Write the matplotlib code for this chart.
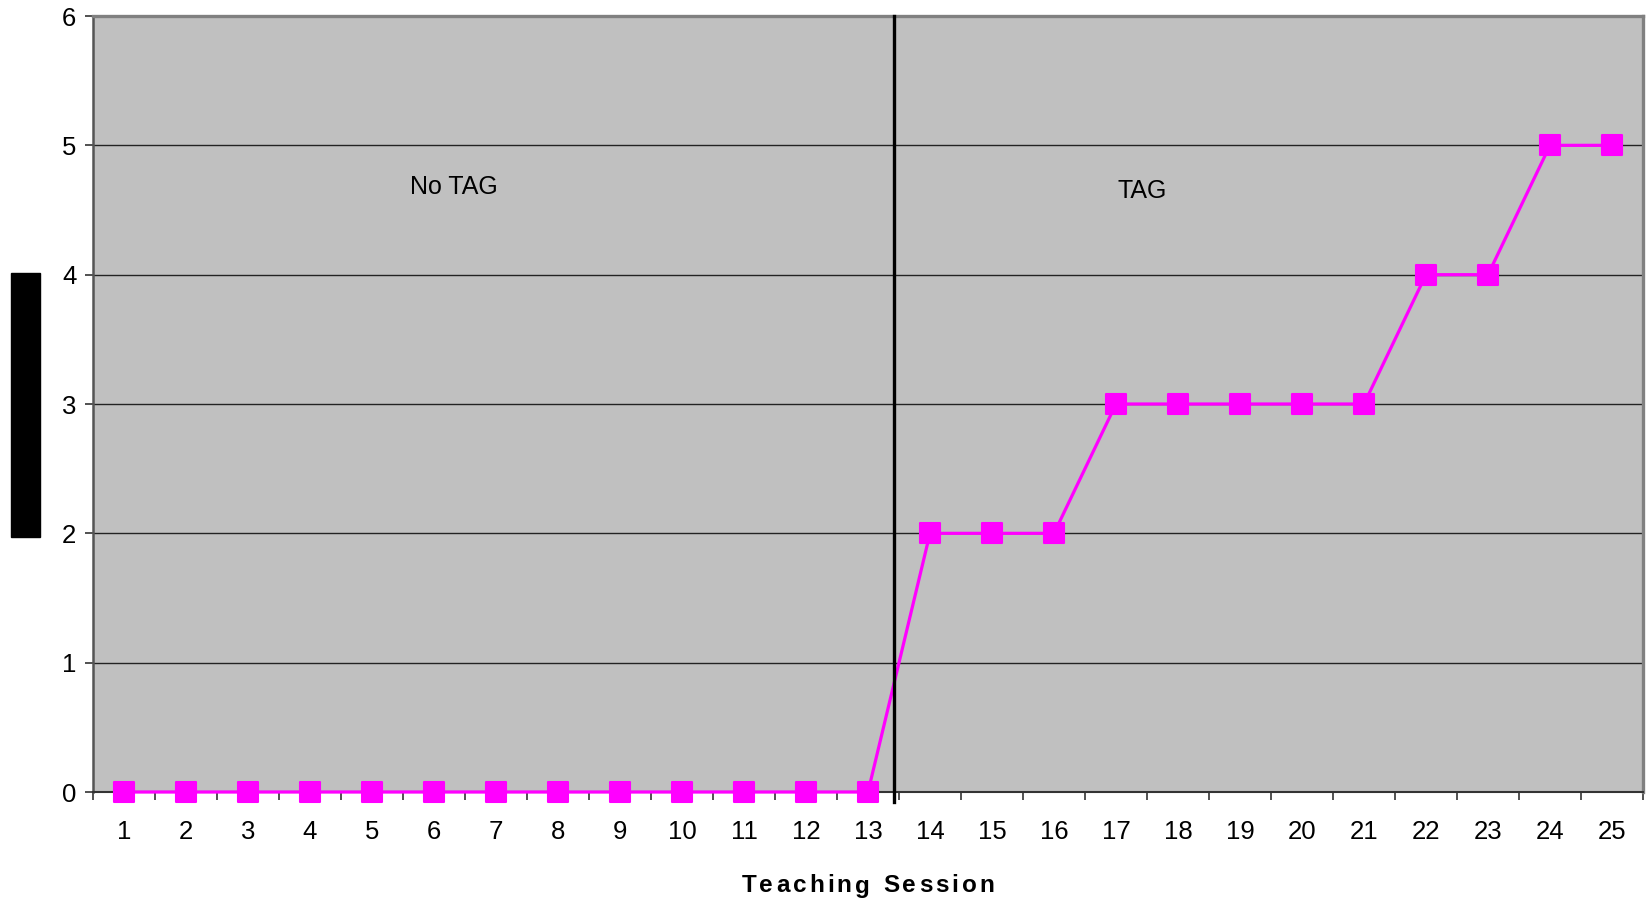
import numpy as np
import matplotlib
matplotlib.use("Agg")
import matplotlib.pyplot as plt
from matplotlib.patches import Rectangle
from matplotlib.markers import MarkerStyle

plt.rcParams['font.family'] = ['Liberation Sans', 'DejaVu Sans']

# sessions and scores
sessions = list(range(1, 26))
scores = [0, 0, 0, 0, 0, 0, 0, 0, 0, 0, 0, 0, 0,
          2, 2, 2, 3, 3, 3, 3, 3, 4, 4, 5, 5]
phase_change = 13.42   # boundary between the two phases
phase_labels = ["No TAG", "TAG"]

fig = plt.figure(figsize=(16.46, 9.01), dpi=100)
ax = fig.add_axes([93 / 1646, 1 - 792 / 901, 1550 / 1646, 776 / 901])
ax.set_facecolor("#c0c0c0")

# squares with slightly rounded corners
sq = MarkerStyle("s", joinstyle="round")
ax.plot(sessions, scores, color="#ff00ff", lw=2.3, marker=sq, ms=14, mew=1.5,
        mfc="#ff00ff", mec="#ff00ff", zorder=4, clip_on=False)

# phase line, poking a bit below the axis
ax.plot([phase_change, phase_change], [-0.075, 6], color="black", lw=2.4,
        clip_on=False, zorder=5)

ax.text(6.32, 4.68, phase_labels[0], fontsize=18, ha="center", va="center")
ax.text(17.42, 4.65, phase_labels[1], fontsize=18, ha="center", va="center")

ax.set_xlim(0.5, 25.5)
ax.set_ylim(0, 6)
ax.set_yticks(range(0, 7))
ax.set_xticks(sessions)
ax.set_xticks(np.arange(0.5, 26, 1), minor=True)
ax.tick_params(axis="x", which="major", length=0, pad=20, labelsize=18.5)
ax.tick_params(axis="x", which="minor", length=6, width=1.2, color="#333333")
ax.tick_params(axis="y", length=6, width=1.2, color="#333333", pad=6, labelsize=18.5)

ax.grid(axis="y", color="#222222", lw=1.0)
ax.set_axisbelow(True)

ax.spines["top"].set_color("#808080")
ax.spines["top"].set_linewidth(2.4)
ax.spines["right"].set_color("#808080")
ax.spines["right"].set_linewidth(2.4)
ax.spines["left"].set_color("#555555")
ax.spines["left"].set_linewidth(1.8)
ax.spines["bottom"].set_color("#333333")
ax.spines["bottom"].set_linewidth(1.5)

# blacked-out y label
fig.patches.append(Rectangle((11 / 1646, 1 - 537 / 901), 29 / 1646, 264 / 901,
                             transform=fig.transFigure, color="black"))

# letter-spaced x label
title = "Teaching Session"
spacing = 3.0  # px between letters
fig.canvas.draw()
renderer = fig.canvas.get_renderer()
widths = []
for ch in title:
    t = fig.text(0, 0, ch if ch != " " else "n", fontsize=17.5, fontweight="bold")
    w = t.get_window_extent(renderer).width
    if ch == " ":
        w *= 0.5
    widths.append(w)
    t.remove()
total = sum(widths) + spacing * (len(title) - 1)
x = 868 - total / 2
for ch, w in zip(title, widths):
    if ch != " ":
        fig.text(x / 1646, 1 - 886 / 901, ch, fontsize=17.5, fontweight="bold",
                 va="center", ha="left")
    x += w + spacing

fig.savefig("out.png", dpi=100)
